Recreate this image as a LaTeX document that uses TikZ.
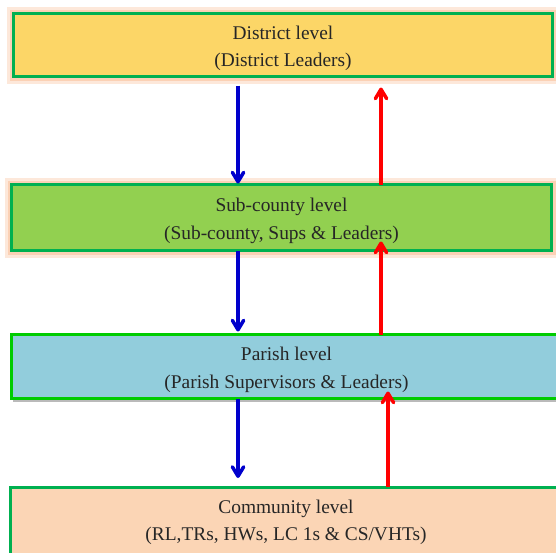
\documentclass[tikz,border=0pt]{standalone}
\usepackage{fontspec}
\setmainfont{Liberation Serif}
\usetikzlibrary{arrows.meta,shadows}
\definecolor{distfill}{RGB}{252,214,103}
\definecolor{subfill}{RGB}{146,208,80}
\definecolor{parfill}{RGB}{146,205,220}
\definecolor{comfill}{RGB}{251,213,181}
\definecolor{boxline}{RGB}{0,176,80}
\definecolor{parline}{RGB}{0,204,0}
\definecolor{glowc}{RGB}{250,190,150}
\definecolor{txt}{RGB}{38,38,38}
\definecolor{downc}{RGB}{0,0,204}
\definecolor{upc}{RGB}{255,0,0}
\begin{document}
\begin{tikzpicture}[x=1pt,y=-1pt,
  level/.style={draw=boxline, line width=3pt, inner sep=0pt, outer sep=0pt},
  leveltext/.style={text=txt, font=\fontsize{19.4}{27.5}\selectfont, align=center,
    inner sep=0pt, yshift=-3.5pt},
  glow/.style={preaction={draw=glowc!35, line width=14pt},
               preaction={draw=glowc!70, line width=8pt}},
  down/.style={draw=downc, line width=3.5pt,
    -{Straight Barb[angle=62:11pt, round]}},
  up/.style={draw=upc, line width=3.5pt,
    -{Straight Barb[angle=62:11pt, round]}}]
\clip (0,0) rectangle (556,552);
\fill[white] (0,0) rectangle (556,552);
\coordinate (bx) at (238,0);
\coordinate (rx1) at (381,0);
\coordinate (rx2) at (388,0);
\node[level, glow, fill=distfill, minimum width=539pt, minimum height=63pt] (d) at (283,45) {};
\node[leveltext] (dt) at (d.center) {District level\\(District Leaders)};
\node[level, glow, fill=subfill, minimum width=540pt, minimum height=66pt] (s) at (281.5,217.5) {};
\node[leveltext] (st) at (s.center) {Sub-county level\\(Sub-county, Sups \& Leaders)};
\node[level, draw=parline, fill=parfill, minimum width=551pt, minimum height=64pt,
  drop shadow={shadow xshift=2pt, shadow yshift=-3pt, fill=black!45, opacity=0.6}] (p) at (286.5,366.5) {};
\node[leveltext] (pt) at (p.center) {Parish level\\(Parish Supervisors \& Leaders)};
\node[level, fill=comfill, minimum width=552pt, minimum height=70pt] (c) at (286,522) {};
\node[leveltext, yshift=3pt] (ct) at (c.center) {Community level\\(RL,TRs, HWs, LC 1s \& CS/VHTs)};
\draw[down, shorten <=9pt, shorten >=1pt] (d.south -| bx) -- (s.north -| bx);
\draw[up, shorten >=11pt] (s.north -| rx1) -- (d.south -| rx1);
\draw[down, shorten >=3pt] (s.south -| bx) -- (p.north -| bx);
\draw[up, shorten >=-9pt] (p.north -| rx1) -- (s.south -| rx1);
\draw[down, shorten >=9pt] (p.south -| bx) -- (c.north -| bx);
\draw[up, shorten >=-7pt] (c.north -| rx2) -- (p.south -| rx2);
\end{tikzpicture}
\end{document}
